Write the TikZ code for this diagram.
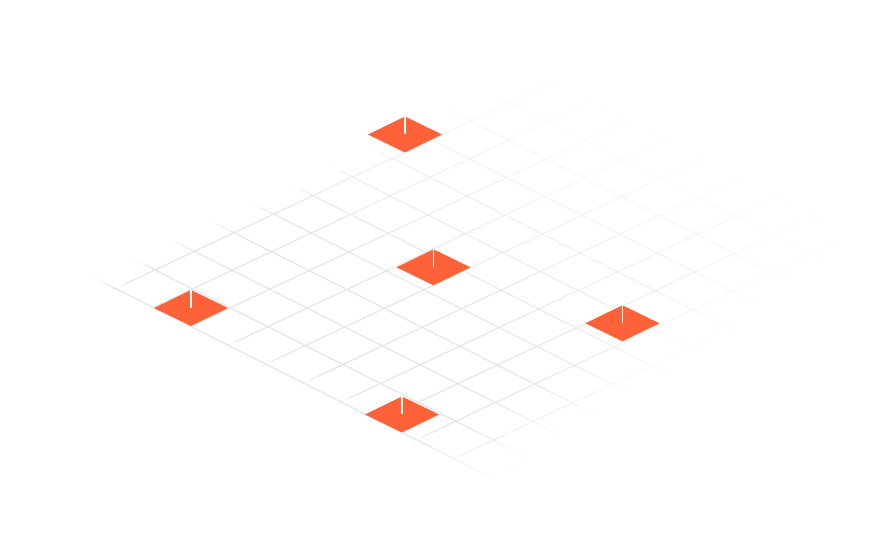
\documentclass[tikz,border=0pt]{standalone}
\usetikzlibrary{shapes.geometric}

\definecolor{pinorange}{RGB}{255,97,56}
\definecolor{gridgray}{RGB}{230,230,230}

\begin{document}
\begin{tikzpicture}[
    x=1pt, y=1pt,
    % Styles
    pin/.style={diamond, fill=pinorange, minimum width=74pt, minimum height=36pt, inner sep=0pt, outer sep=0pt},
    pole/.style={white, line width=1.8pt},
    gridline/.style={draw=gridgray, line width=1.2pt},
]

% Canvas (fixes the margins)
\useasboundingbox (0,0) rectangle (895,554);
\fill[white] (0,0) rectangle (895,554);

% Isometric floor grid, fading out towards the far corner
\begin{scope}[shift={(155,284)}, x={(37.6pt,-18.9pt)}, y={(39.5pt,18.6pt)}]
  % lines running down to the right
  \foreach \j in {-1,...,11} {
    \foreach \k in {0,...,43} {
      \pgfmathsetmacro{\i}{-0.6+0.25*\k}
      \pgfmathsetmacro{\v}{min(1,max(0,(10.2-\j)/8))*min(1,max(0,(10-\i-0.125-0.15*\j)/2))*min(1,max(0,(\i+0.725)/0.6))}
      \draw[gridline, opacity=\v] (\i,\j) -- ++(0.25,0);
    }
  }
  % lines running up to the right
  \foreach \i in {0,...,10} {
    \foreach \k in {0,...,49} {
      \pgfmathsetmacro{\j}{-1.1+0.25*\k}
      \pgfmathsetmacro{\v}{min(1,max(0,(10.2-\j-0.125)/8))*min(1,max(0,(10-\i-0.15*(\j+0.125))/2))*min(1,max(0,(\j+1.225)/0.5))}
      \draw[gridline, opacity=\v] (\i,\j) -- ++(0,0.25);
    }
  }
\end{scope}

% Pins
\node[pin] (pinTop) at (405,419.5) {};
\node[pin] (pinMid) at (433.5,286.7) {};
\node[pin] (pinLeft) at (191,246) {};
\node[pin] (pinRight) at (622.5,230.7) {};
\node[pin] (pinLow) at (402,139.5) {};

% Poles on the pins
\foreach \p in {pinTop,pinMid,pinLeft,pinRight,pinLow}
  \draw[pole] (\p.north) -- (\p.center);

\end{tikzpicture}
\end{document}
